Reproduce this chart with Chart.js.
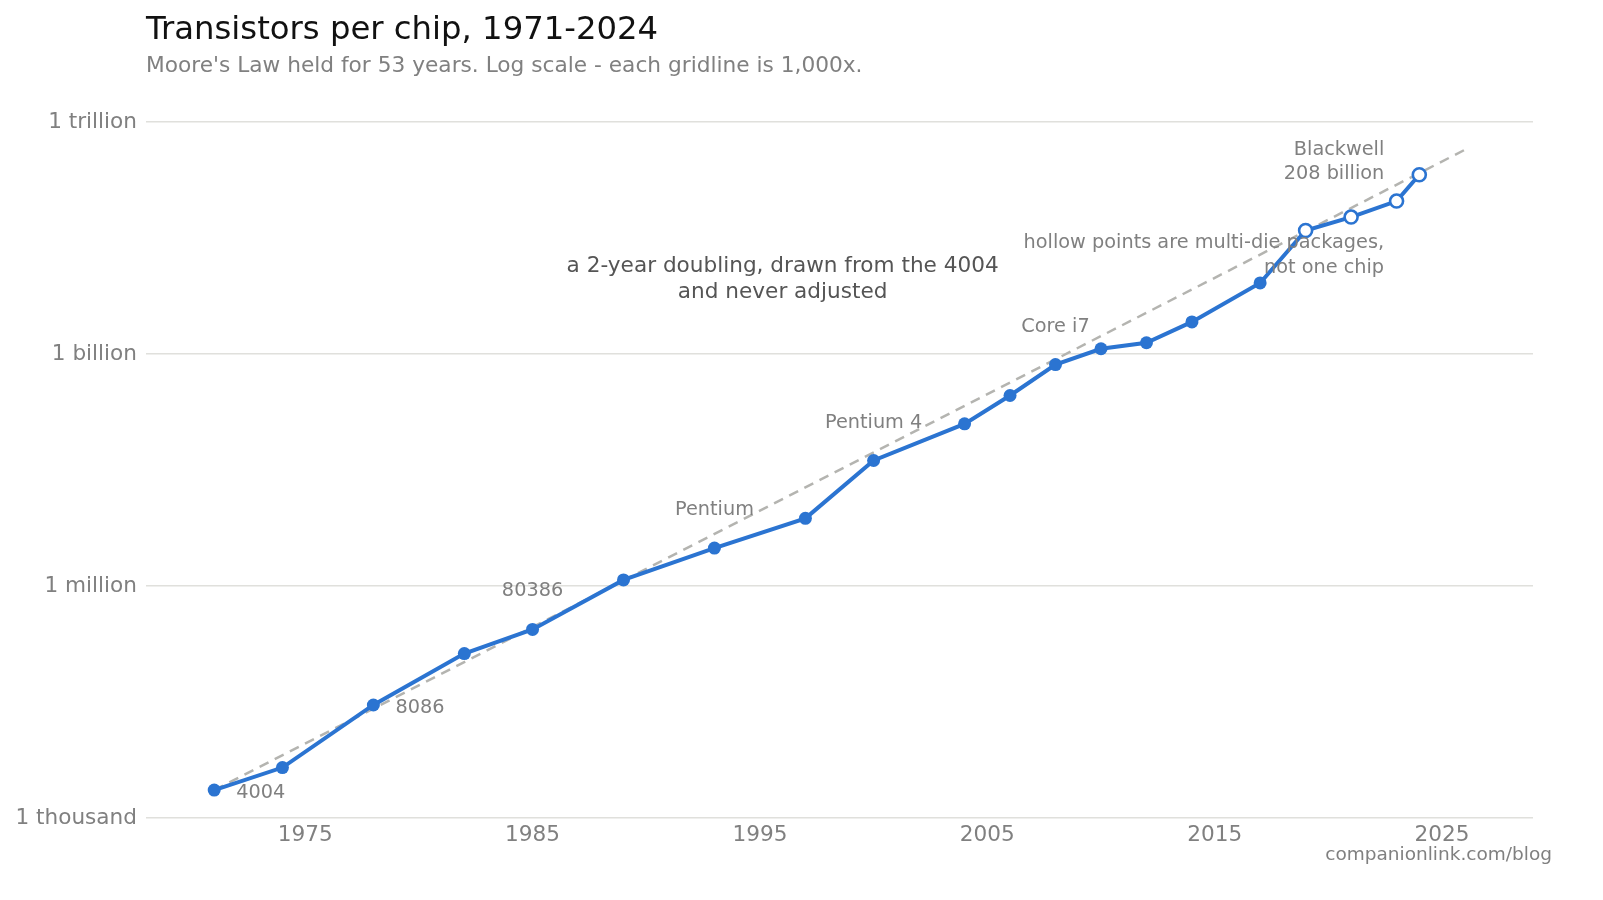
<!DOCTYPE html>
<html>
<head>
<meta charset="utf-8">
<script src="https://cdn.jsdelivr.net/npm/chart.js@4/dist/chart.umd.min.js"></script>
<style>
  html, body { margin: 0; padding: 0; background: #fff; }
  #wrap { width: 1603px; height: 900px; }
</style>
</head>
<body>
<div id="wrap"><canvas id="chart" width="1603" height="900"></canvas></div>
<script>
// chip release year and transistor count
const years = [1971, 1974, 1978, 1982, 1985, 1989, 1993, 1997, 2000, 2004, 2006, 2008, 2010, 2012, 2014, 2017, 2019, 2021, 2023, 2024]
const transistors = [2300, 4500, 29000, 134000, 275000, 1200000, 3100000, 7500000, 42000000, 125000000,
    291000000, 731000000, 1170000000, 1400000000, 2600000000, 8300000000, 39500000000, 59000000000, 95000000000, 208000000000]
const multiDie = [false, false, false, false, false, false, false, false, false, false,
    false, false, false, false, false, false, true, true, true, true]

// 2-year doubling from the 4004, endpoints only
const trendYears = [1971, 2026]
const trendValues = [2300, 437000000000]

const xTicks = [1975, 1985, 1995, 2005, 2015, 2025]
const yTicks = [1e3, 1e6, 1e9, 1e12]
const yTickLabels = ['1 thousand', '1 million', '1 billion', '1 trillion']

const BLUE = '#2b74d1'
const GREY = '#808080'
const FONT = '"DejaVu Sans", sans-serif'

// text next to chosen points: index into the series, pixel nudge, alignment
const pointNotes = [
    {i: 0, text: ['4004'], dx: 22, dy: 3, align: 'left'},
    {i: 2, text: ['8086'], dx: 22, dy: 3, align: 'left'},
    {i: 4, text: ['80386'], dx: 0, dy: -38, align: 'center'},
    {i: 6, text: ['Pentium'], dx: 0, dy: -38, align: 'center'},
    {i: 8, text: ['Pentium 4'], dx: 0, dy: -38, align: 'center'},
    {i: 11, text: ['Core i7'], dx: 0, dy: -38, align: 'center'},
    {i: 19, text: ['Blackwell', '208 billion'], dx: -35, dy: -25, align: 'right'},
]
// free notes placed in data space
const freeNotes = [
    {x: 2022.45, y: 1.9e10, text: ['hollow points are multi-die packages,', 'not one chip'], align: 'right', color: GREY, size: 19.3, lh: 25},
    {x: 1996, y: 9.3e9, text: ['a 2-year doubling, drawn from the 4004', 'and never adjusted'], align: 'center', color: '#555555', size: 21.6, lh: 26},
]

const notesPlugin = {
    id: 'notes',
    afterDatasetsDraw(chart) {
        const {ctx, scales: {x, y}} = chart
        ctx.save()
        ctx.textBaseline = 'middle'
        pointNotes.forEach(n => {
            const px = x.getPixelForValue(years[n.i]) + n.dx
            const py = y.getPixelForValue(transistors[n.i]) + n.dy
            ctx.font = '19.3px ' + FONT
            ctx.fillStyle = GREY
            ctx.textAlign = n.align
            n.text.forEach((t, k) => ctx.fillText(t, px, py + k * 24))
        })
        freeNotes.forEach(n => {
            const px = x.getPixelForValue(n.x)
            const py = y.getPixelForValue(n.y)
            ctx.font = n.size + 'px ' + FONT
            ctx.fillStyle = n.color
            ctx.textAlign = n.align
            const top = py - (n.text.length - 1) * n.lh / 2
            n.text.forEach((t, k) => ctx.fillText(t, px, top + k * n.lh))
        })
        ctx.restore()
    },
    afterDraw(chart) {
        const {ctx} = chart
        ctx.save()
        ctx.textBaseline = 'middle'
        ctx.textAlign = 'left'
        ctx.fillStyle = '#111111'
        ctx.font = '32.3px ' + FONT
        ctx.fillText('Transistors per chip, 1971-2024', 146, 31)
        ctx.fillStyle = GREY
        ctx.font = '21.7px ' + FONT
        ctx.fillText("Moore's Law held for 53 years. Log scale - each gridline is 1,000x.", 146, 66)
        ctx.textAlign = 'right'
        ctx.font = '18.5px ' + FONT
        ctx.fillText('companionlink.com/blog', 1552, 855)
        ctx.restore()
    }
}

new Chart(document.getElementById('chart'), {
    type: 'line',
    data: {
        datasets: [
            {
                label: 'trend',
                data: trendYears.map((yr, i) => ({x: yr, y: trendValues[i]})),
                borderColor: '#b4b4b0',
                borderWidth: 2.5,
                borderDash: [10, 7],
                pointRadius: 0,
                order: 2
            },
            {
                label: 'transistors',
                data: years.map((yr, i) => ({x: yr, y: transistors[i]})),
                borderColor: BLUE,
                borderWidth: 4,
                pointRadius: 6.5,
                pointBorderWidth: multiDie.map(h => h ? 2.6 : 0),
                pointBackgroundColor: multiDie.map(h => h ? '#ffffff' : BLUE),
                pointBorderColor: BLUE,
                order: 1
            }
        ]
    },
    options: {
        responsive: false,
        animation: false,
        devicePixelRatio: 1,
        layout: {padding: {left: 0, right: 70, top: 122, bottom: 48}},
        plugins: {legend: {display: false}, tooltip: {enabled: false}},
        scales: {
            x: {
                type: 'linear',
                min: 1968,
                max: 2029,
                grid: {display: false, drawTicks: false},
                border: {display: false},
                afterBuildTicks: s => { s.ticks = xTicks.map(v => ({value: v})) },
                ticks: {
                    color: GREY,
                    font: {family: FONT, size: 21.6},
                    padding: 4,
                    callback: v => String(v)
                }
            },
            y: {
                type: 'logarithmic',
                min: 1e3,
                max: 1e12,
                border: {display: false},
                grid: {color: '#e0e0dc', lineWidth: 1.6, drawTicks: false},
                afterBuildTicks: s => { s.ticks = yTicks.map(v => ({value: v})) },
                afterFit: s => { s.width = 146 },
                ticks: {
                    color: GREY,
                    font: {family: FONT, size: 21.6},
                    padding: 9,
                    callback: v => yTickLabels[yTicks.indexOf(v)]
                }
            }
        }
    },
    plugins: [notesPlugin]
})
</script>
</body>
</html>
